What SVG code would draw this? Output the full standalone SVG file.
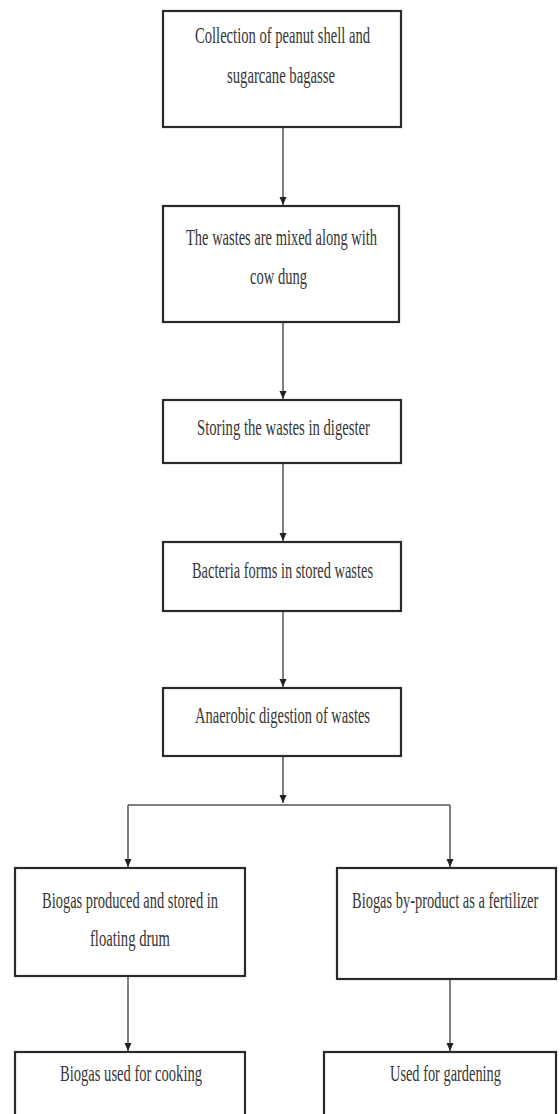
<svg xmlns="http://www.w3.org/2000/svg" width="560" height="1114" viewBox="0 0 560 1114">
<style>
.box{fill:#fff;stroke:#2a2a2a;stroke-width:2.2}
.t{font-family:"Liberation Serif","Times New Roman",serif;font-size:22.5px;fill:#363636;text-anchor:start}
.c{fill:none;stroke:#555;stroke-width:1.5}
</style>
<defs>
<marker id="a" markerUnits="userSpaceOnUse" markerWidth="8" markerHeight="9" refX="8" refY="4" orient="auto" viewBox="0 0 8 8">
<path d="M0,0.5 L8,4 L0,7.5 Z" fill="#222"/>
</marker>
</defs>
<g id="connectors">
<line class="c" x1="283" y1="127" x2="283" y2="205" marker-end="url(#a)"/>
<line class="c" x1="283" y1="322" x2="283" y2="399" marker-end="url(#a)"/>
<line class="c" x1="283" y1="463" x2="283" y2="541" marker-end="url(#a)"/>
<line class="c" x1="283" y1="611" x2="283" y2="687" marker-end="url(#a)"/>
<line class="c" x1="283" y1="756" x2="283" y2="803" marker-end="url(#a)"/>
<line class="c" x1="128" y1="805" x2="450" y2="805"/>
<line class="c" x1="128" y1="805" x2="128" y2="867" marker-end="url(#a)"/>
<line class="c" x1="450" y1="805" x2="450" y2="867" marker-end="url(#a)"/>
<line class="c" x1="128" y1="976" x2="128" y2="1051" marker-end="url(#a)"/>
<line class="c" x1="450" y1="979" x2="450" y2="1051" marker-end="url(#a)"/>
</g>
<g id="n1">
<rect class="box" x="163" y="11" width="238" height="116"/>
<text class="t" x="195" y="43" textLength="175" lengthAdjust="spacingAndGlyphs">Collection of peanut shell and</text>
<text class="t" x="227" y="83" textLength="108" lengthAdjust="spacingAndGlyphs">sugarcane bagasse</text>
</g>
<g id="n2">
<rect class="box" x="163" y="206" width="236" height="116"/>
<text class="t" x="186" y="245" textLength="191" lengthAdjust="spacingAndGlyphs">The wastes are mixed along with</text>
<text class="t" x="250" y="284" textLength="57" lengthAdjust="spacingAndGlyphs">cow dung</text>
</g>
<g id="n3">
<rect class="box" x="163" y="400" width="238" height="63"/>
<text class="t" x="197" y="435" textLength="173" lengthAdjust="spacingAndGlyphs">Storing the wastes in digester</text>
</g>
<g id="n4">
<rect class="box" x="163" y="542" width="238" height="69"/>
<text class="t" x="192" y="578" textLength="181" lengthAdjust="spacingAndGlyphs">Bacteria forms in stored wastes</text>
</g>
<g id="n5">
<rect class="box" x="163" y="688" width="238" height="68"/>
<text class="t" x="195" y="723" textLength="175" lengthAdjust="spacingAndGlyphs">Anaerobic digestion of wastes</text>
</g>
<g id="n6">
<rect class="box" x="15" y="868" width="230" height="108"/>
<text class="t" x="42" y="908" textLength="176" lengthAdjust="spacingAndGlyphs">Biogas produced and stored in</text>
<text class="t" x="90" y="946" textLength="80" lengthAdjust="spacingAndGlyphs">floating drum</text>
</g>
<g id="n7">
<rect class="box" x="337" y="868" width="219" height="111"/>
<text class="t" transform="translate(352,908) scale(0.643,1)" x="0" y="0">Biogas by-product as a fertilizer</text>
</g>
<g id="n8">
<rect class="box" x="15" y="1052" width="230" height="80"/>
<text class="t" x="60" y="1081" textLength="142" lengthAdjust="spacingAndGlyphs">Biogas used for cooking</text>
</g>
<g id="n9">
<rect class="box" x="324" y="1052" width="232" height="80"/>
<text class="t" transform="translate(390,1081) scale(0.639,1)" x="0" y="0">Used for gardening</text>
</g>
</svg>
